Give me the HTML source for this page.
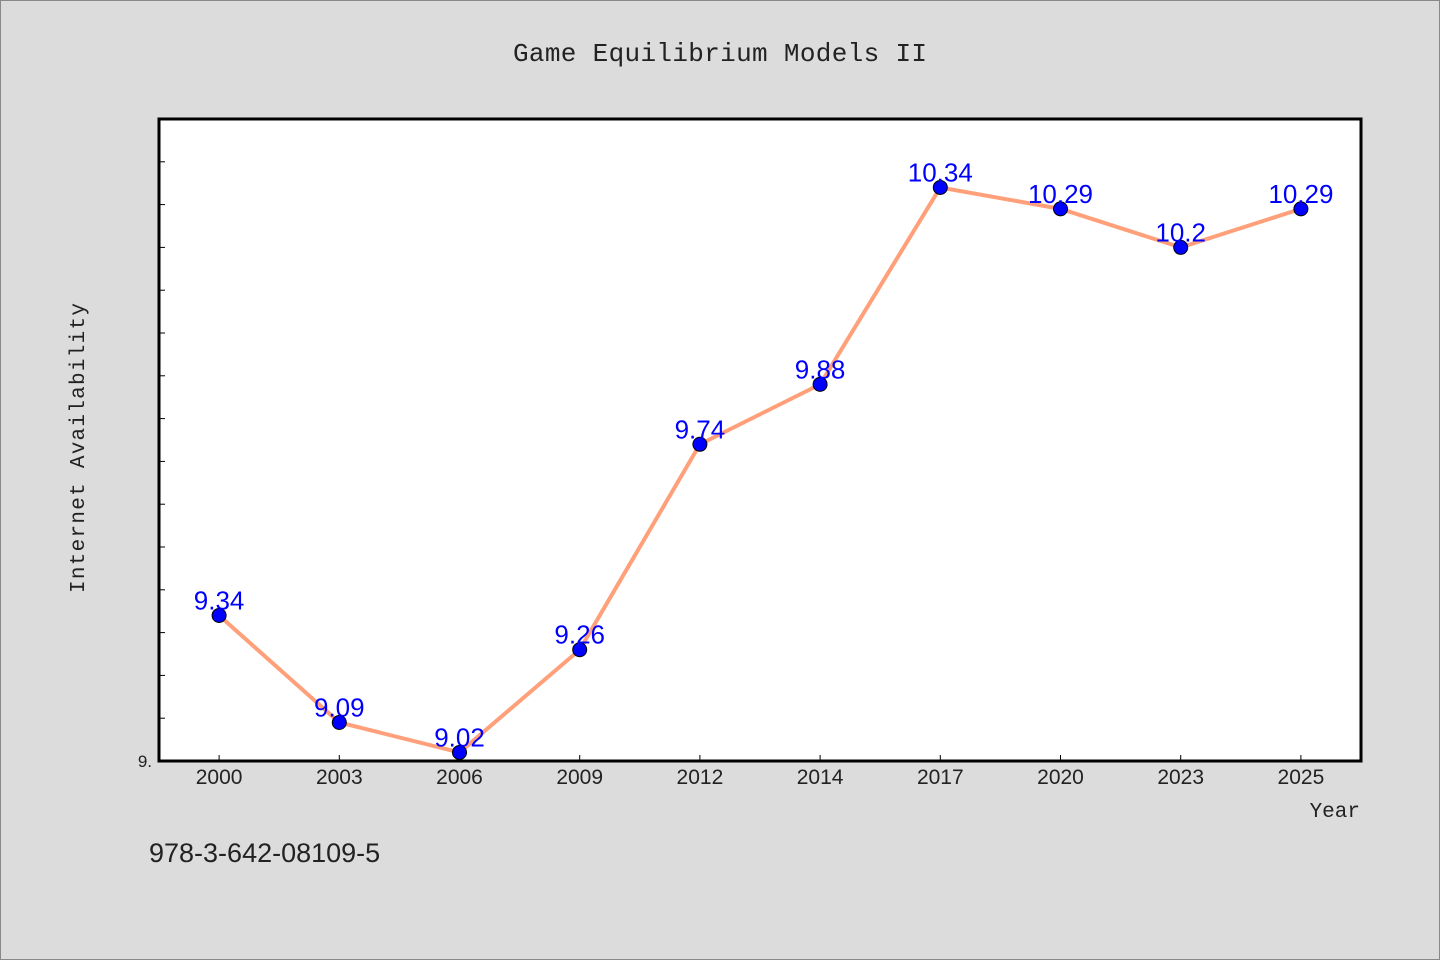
<!DOCTYPE html>
<html><head><meta charset="utf-8"><style>
html,body{margin:0;padding:0;background:#dcdcdc;}
svg{display:block;font-family:"WenQuanYi Zen Hei","Liberation Sans",sans-serif;}
</style></head><body>
<svg id="chart" width="1440" height="960" viewBox="0 0 1440 960">
<rect x="0.5" y="0.5" width="1439" height="959" fill="#dcdcdc" stroke="#888"/>
<text x="720" y="61" text-anchor="middle" font-family="WenQuanYi Zen Hei Mono, Liberation Mono, monospace" font-size="26" fill="#222" textLength="414" lengthAdjust="spacing">Game Equilibrium Models II</text>
<rect x="159" y="119" width="1202" height="642" fill="#fff" stroke="#000" stroke-width="3"/>
<g id="yticks"></g><g id="xticks"></g>
<path id="line" fill="none" stroke="#ffa07a" stroke-width="4"/>
<g id="pts"></g>
<text transform="translate(84,448) rotate(-90)" text-anchor="middle" font-family="WenQuanYi Zen Hei Mono, Liberation Mono, monospace" font-size="21" fill="#222" textLength="290" lengthAdjust="spacing">Internet Availability</text>
<text x="1360" y="817" text-anchor="end" font-family="WenQuanYi Zen Hei Mono, Liberation Mono, monospace" font-size="21" fill="#222">Year</text>
<text x="149" y="862" font-size="27" fill="#222">978-3-642-08109-5</text>
</svg>
<script>
const categories=["2000","2003","2006","2009","2012","2014","2017","2020","2023","2025"];
const values=[9.34,9.09,9.02,9.26,9.74,9.88,10.34,10.29,10.2,10.29];
const labels=["9.34","9.09","9.02","9.26","9.74","9.88","10.34","10.29","10.2","10.29"];
const yMin=9.0,yMax=10.5;
const L=159,R=1361,T=119,B=761;
const ns="http://www.w3.org/2000/svg";
const xs=i=>L+(R-L)/categories.length*(i+0.5);
const ys=v=>B-(v-yMin)/(yMax-yMin)*(B-T);
function mk(tag,attrs,parent){const e=document.createElementNS(ns,tag);for(const k in attrs)e.setAttribute(k,attrs[k]);document.getElementById(parent).appendChild(e);return e;}
for(let k=1;k<=14;k++){const v=yMin+k*0.1;const y=ys(v);
const t=mk("line",{x1:L,x2:L+6,y1:y,y2:y,stroke:"#000","stroke-width":1},"yticks");

}
const y0=mk("text",{x:152,y:B+6,"text-anchor":"end","font-size":17,fill:"#222"},"yticks");y0.textContent="9.";


categories.forEach((c,i)=>{const x=xs(i);
const t=mk("line",{x1:x,x2:x,y1:B,y2:B-6,stroke:"#000","stroke-width":1},"xticks");


const tl=mk("text",{x:x,y:B+23,"text-anchor":"middle","font-size":21,fill:"#222"},"xticks");tl.textContent=c;

});
document.getElementById("line").setAttribute("d",values.map((v,i)=>(i?"L":"M")+xs(i)+","+ys(v)).join(""));
values.forEach((v,i)=>{
const c=mk("circle",{cx:xs(i),cy:ys(v),r:7,fill:"#0000ff",stroke:"#000","stroke-width":1},"pts");


const t=mk("text",{x:xs(i),y:ys(v)-6,"text-anchor":"middle","font-size":26,fill:"#0000ff"},"pts");t.textContent=labels[i];

});
</script>
</body></html>
